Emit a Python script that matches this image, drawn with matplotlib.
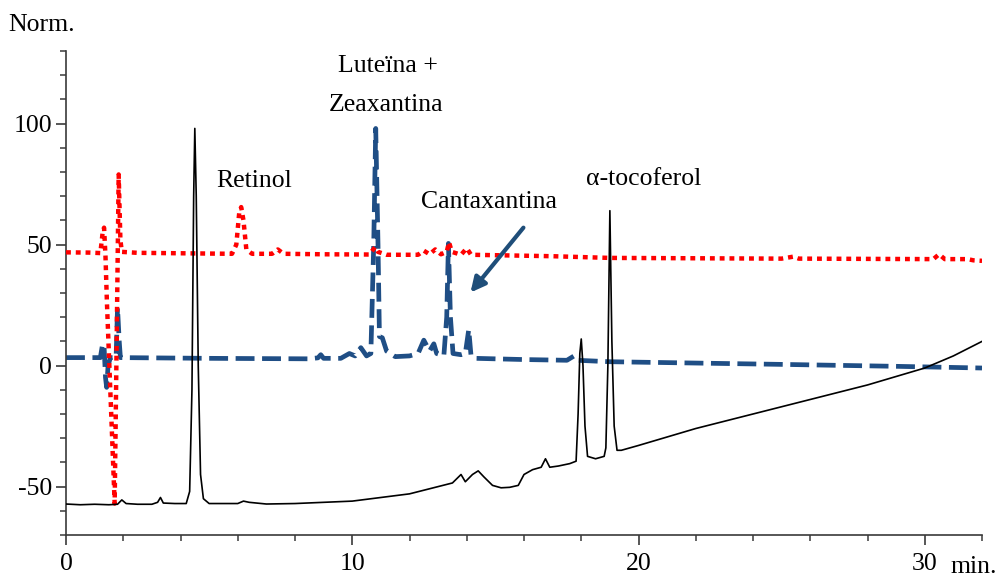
import matplotlib
matplotlib.use("Agg")
import matplotlib.pyplot as plt
from matplotlib.ticker import MultipleLocator, FixedLocator

plt.rcParams['font.family'] = ['Liberation Serif', 'DejaVu Serif']
plt.rcParams['axes.unicode_minus'] = False

# detector 1 (solid black)
black_t = [0.0, 0.5, 1.0, 1.5, 1.8, 1.95, 2.1, 2.5, 3.0, 3.2, 3.3, 3.4, 3.8, 4.2,
           4.32, 4.4, 4.46, 4.5, 4.55, 4.62, 4.7, 4.8, 5.0, 5.5, 6.0, 6.2, 6.4, 7.0,
           8.0, 9.0, 10.0, 11.0, 12.0, 12.5, 13.0, 13.5, 13.8, 13.95, 14.2, 14.4,
           14.6, 14.9, 15.2, 15.5, 15.8, 16.0, 16.3, 16.6, 16.75, 16.9, 17.2, 17.6,
           17.82, 17.89, 17.95, 18.0, 18.06, 18.13, 18.22, 18.5, 18.8, 18.86, 18.93,
           19.0, 19.07, 19.15, 19.25, 19.4, 20.0, 21.0, 22.0, 23.0, 24.0, 25.0, 26.0,
           27.0, 28.0, 29.0, 30.0, 31.0, 32.0]
black_y = [-57.2, -57.5, -57.3, -57.5, -57.3, -55.5, -57.0, -57.3, -57.3, -56.5, -54.5,
           -56.8, -57.0, -57.0, -52.0, -10.0, 70.0, 98.0, 70.0, 0.0, -45.0, -55.0, -57.0,
           -57.0, -57.0, -56.0, -56.5, -57.2, -57.0, -56.5, -56.0, -54.5, -53.0, -51.5,
           -50.0, -48.5, -45.0, -48.0, -45.0, -43.5, -46.0, -49.5, -50.5, -50.3, -49.5,
           -45.0, -43.0, -42.0, -38.5, -42.0, -41.5, -40.5, -39.5, -20.0, 5.0, 11.0,
           0.0, -25.0, -37.5, -38.5, -37.5, -34.0, 0.0, 64.0, 10.0, -25.0, -35.0,
           -35.0, -33.0, -29.5, -26.0, -23.0, -20.0, -17.0, -14.0, -11.0, -8.0, -4.5,
           -1.0, 4.0, 10.0]

# detector 2 (red dotted)
red_t = [0.0, 0.8, 1.2, 1.28, 1.33, 1.38, 1.43, 1.70, 1.77, 1.84, 1.9, 1.95, 2.5,
         5.0, 5.8, 5.95, 6.05, 6.12, 6.2, 6.3, 6.5, 7.2, 7.4, 7.6, 9.0, 10.6, 10.8,
         10.9, 11.2, 12.3, 12.5, 12.7, 12.9, 13.1, 13.3, 13.38, 13.48, 13.8, 14.0,
         14.15, 17.0, 19.0, 25.0, 25.4, 25.6, 30.3, 30.5, 30.7, 31.5, 31.7, 32.0]
red_y = [46.8, 46.7, 46.5, 55.0, 57.0, 45.0, 26.0, -57.0, 10.0, 79.0, 52.0, 47.0,
         46.6, 46.3, 46.2, 50.0, 63.0, 65.5, 60.0, 48.0, 46.2, 46.2, 48.0, 46.2,
         46.0, 45.9, 49.0, 47.0, 45.8, 45.8, 47.5, 46.0, 48.0, 46.0, 47.0, 51.0,
         47.0, 45.8, 48.5, 45.8, 45.2, 44.5, 44.2, 45.0, 44.2, 44.0, 46.0, 44.0,
         44.0, 43.5, 43.3]

# detector 3 (blue dashed)
blue_t = [0.0, 1.2, 1.28, 1.33, 1.38, 1.42, 1.47, 1.55, 1.75, 1.8, 1.86, 1.9, 5.0,
          8.5, 8.8, 8.9, 9.0, 9.6, 9.9, 10.1, 10.3, 10.5, 10.65, 10.75, 10.82, 10.9,
          10.95, 11.05, 11.2, 11.5, 12.0, 12.3, 12.5, 12.7, 12.85, 12.95, 13.2, 13.3,
          13.36, 13.43, 13.52, 13.8, 13.95, 14.07, 14.15, 14.3, 16.0, 17.5, 17.75,
          17.85, 19.0, 25.0, 29.0, 32.0]
blue_y = [3.3, 3.3, 9.0, 8.0, -5.0, -9.0, 0.0, 3.3, 3.3, 24.0, 10.0, 3.3, 3.0,
          2.8, 3.2, 4.5, 3.0, 3.0, 5.0, 4.0, 7.4, 4.0, 5.0, 50.0, 98.0, 50.0, 12.0,
          11.5, 6.0, 3.7, 4.0, 5.0, 10.5, 6.0, 9.0, 5.0, 4.0, 20.0, 50.5, 20.0, 5.0,
          4.5, 5.0, 14.9, 4.0, 3.0, 2.5, 2.2, 4.0, 2.2, 1.6, 0.5, -0.3, -1.0]

peak_labels = ["Retinol", "Luteïna +", "Zeaxantina", "Cantaxantina", "α-tocoferol"]
label_x = [6.57, 11.24, 11.17, 14.79, 20.17]
label_y = [74.0, 121.4, 105.1, 65.3, 74.8]

navy = "#1F4E85"
axis_col = "#3a3a3a"

fig = plt.figure(figsize=(10, 5.77), dpi=100)
ax = fig.add_axes([0.066, 0.0728, 0.916, 0.8388])

ax.plot(blue_t, blue_y, color=navy, lw=3.4, linestyle=(0, (4, 1.6)), zorder=2)
ax.plot(red_t, red_y, color="red", lw=3.2, linestyle=(0, (1.1, 1.1)), zorder=3)
ax.plot(black_t, black_y, color="black", lw=1.2, zorder=4)

ax.set_xlim(0, 32)
ax.set_ylim(-70, 130)

for s in ["top", "right"]:
    ax.spines[s].set_visible(False)
for s in ["left", "bottom"]:
    ax.spines[s].set_color(axis_col)
    ax.spines[s].set_linewidth(1.2)

ax.xaxis.set_major_locator(FixedLocator([0, 10, 20, 30]))
ax.xaxis.set_minor_locator(MultipleLocator(2))
ax.yaxis.set_major_locator(FixedLocator([-50, 0, 50, 100]))
ax.yaxis.set_minor_locator(MultipleLocator(10))
ax.tick_params(which="major", length=7, width=1.2, color=axis_col, labelsize=18.5)
ax.tick_params(which="minor", length=4.3, width=1.1, color=axis_col)
ax.tick_params(axis="x", pad=6)
ax.tick_params(axis="y", pad=3)

for txt, x, y in zip(peak_labels, label_x, label_y):
    ax.text(x, y, txt, ha="center", va="baseline", fontsize=18.5)

ax.annotate("", xy=(14.13, 30.2), xytext=(15.98, 57.0),
            arrowprops=dict(arrowstyle="-|>", color="#1F4E79", lw=3,
                            mutation_scale=22, shrinkA=0, shrinkB=0))

fig.text(0.008, 1 - 31 / 577, "Norm.", ha="left", va="baseline", fontsize=18.5)
fig.text(0.997, 1 - 573 / 577, "min.", ha="right", va="baseline", fontsize=18.5)

fig.savefig("out.png", dpi=100)
